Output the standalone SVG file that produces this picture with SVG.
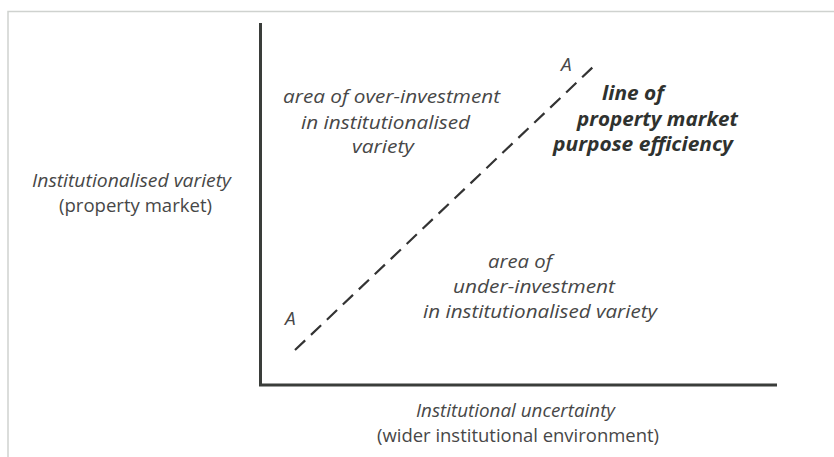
<svg xmlns="http://www.w3.org/2000/svg" width="834" height="457" viewBox="0 0 834 457">
<style>
.t{font-family:"Open Sans","Noto Sans","DejaVu Sans",sans-serif;font-size:19px;fill:#474747}
.i{font-style:italic}
.b{font-weight:bold;font-style:italic;fill:#2f322f;font-size:20px}
.axis{stroke:#3a3d3a;stroke-width:3;fill:none}
.frame{stroke:#cfd2cf;stroke-width:1.5;fill:none}
.dash{stroke:#333;stroke-width:2.2;stroke-dasharray:14 8;fill:none}
</style>
<rect width="834" height="457" fill="#fff"/>
<path class="frame" d="M8 457 V11.5 H834"/>
<g id="axes">
<path class="axis" d="M260.5 23 V385 H777"/>
</g>
<g id="connectors">
<path class="dash" d="M295 350 L593 67"/>
</g>
<g id="y-label">
<text class="t i" x="32" y="187" textLength="199" lengthAdjust="spacingAndGlyphs">Institutionalised variety</text>
<text class="t" x="59" y="212" textLength="153" lengthAdjust="spacingAndGlyphs">(property market)</text>
</g>
<g id="x-label">
<text class="t i" x="416" y="417" textLength="199" lengthAdjust="spacingAndGlyphs">Institutional uncertainty</text>
<text class="t" x="377" y="442" textLength="282" lengthAdjust="spacingAndGlyphs">(wider institutional environment)</text>
</g>
<g id="over">
<text class="t i" x="283" y="103" textLength="217" lengthAdjust="spacingAndGlyphs">area of over-investment</text>
<text class="t i" x="301" y="129" textLength="169" lengthAdjust="spacingAndGlyphs">in institutionalised</text>
<text class="t i" x="352" y="153" textLength="62" lengthAdjust="spacingAndGlyphs">variety</text>
</g>
<g id="under">
<text class="t i" x="488" y="268" textLength="64" lengthAdjust="spacingAndGlyphs">area of</text>
<text class="t i" x="453" y="293" textLength="162" lengthAdjust="spacingAndGlyphs">under-investment</text>
<text class="t i" x="423" y="318" textLength="234" lengthAdjust="spacingAndGlyphs">in institutionalised variety</text>
</g>
<g id="line-label">
<text class="t b" x="602" y="100" textLength="62" lengthAdjust="spacingAndGlyphs">line of</text>
<text class="t b" x="577" y="126" textLength="161" lengthAdjust="spacingAndGlyphs">property market</text>
<text class="t b" x="553" y="151" textLength="180" lengthAdjust="spacingAndGlyphs">purpose efficiency</text>
</g>
<g id="a-labels">
<text class="t i" x="561" y="71">A</text>
<text class="t i" x="285" y="325">A</text>
</g>
</svg>
